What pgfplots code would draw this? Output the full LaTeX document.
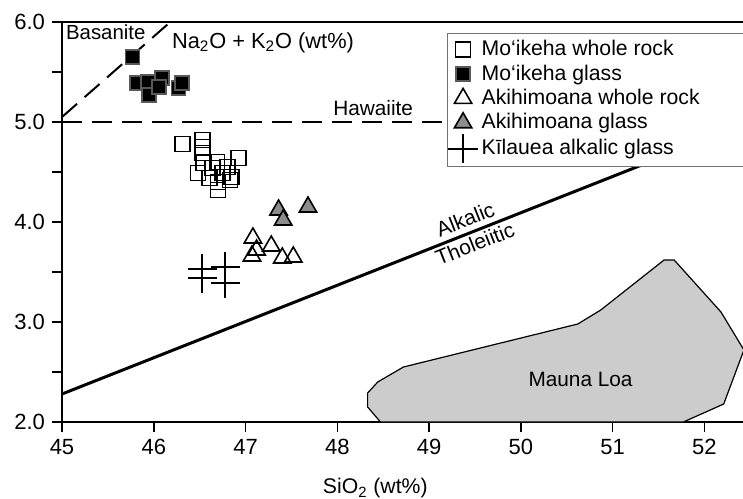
\documentclass[border=0pt]{standalone}
\usepackage{fontspec}
\setmainfont{Liberation Sans}
\usepackage{pgfplots}
\pgfplotsset{compat=1.18}
\definecolor{lobe}{gray}{0.80}
\definecolor{trifill}{gray}{0.55}
\definecolor{boxgray}{gray}{0.45}

\begin{document}
\begin{tikzpicture}
\begin{axis}[
    scale only axis,
    width=340.5pt, height=200pt,
    xmin=45, xmax=52.42, ymin=2, ymax=6,
    axis x line=box, axis y line=left,
    axis line style={-, line width=1pt},
    xtick pos=left, ytick pos=left,
    tick align=outside,
    major tick length=5pt, minor tick length=5pt,
    tick style={line width=0.8pt, black},
    xtick={45,46,...,52},
    ytick={2,3,4,5,6},
    minor ytick={2.5,3.5,4.5,5.5},
    yticklabel style={/pgf/number format/.cd, fixed, fixed zerofill, precision=1},
    /pgf/number format/assume math mode=true,
    tick label style={font=\fontsize{11}{13}\selectfont},
    xlabel={SiO\textsubscript{2} (wt\%)},
    xlabel style={at={(axis description cs:0.46,0)}, anchor=north, yshift=-28pt,
      inner sep=0pt, font=\fontsize{10.6}{12}\selectfont},
    legend style={at={(rel axis cs:0.5653,0.9725)}, anchor=north west,
      draw=boxgray, line width=0.5pt, font=\fontsize{10.6}{12}\selectfont,
      inner xsep=0.5pt, inner ysep=1.5pt, row sep=-1pt},
    legend cell align=left,
]
% Mauna Loa field
\addplot[forget plot, fill=lobe, draw=black, line width=0.6pt] coordinates {
  (48.47,2.00) (48.33,2.15) (48.33,2.29) (48.44,2.40) (48.72,2.55)
  (50.62,2.98) (50.87,3.12) (51.56,3.62) (51.67,3.62) (52.18,3.10)
  (52.43,2.72) (52.21,2.18) (51.77,2.00)
} -- cycle;

% division lines
\addplot[forget plot, line width=1.5pt] coordinates {(45,2.28) (52.42,4.97)};
\addplot[forget plot, line width=1pt, dash pattern=on 10pt off 5pt] coordinates {(45,5.05) (46.18,6.0)};
\addplot[forget plot, line width=1pt, dash pattern=on 10pt off 5pt] coordinates {(45,5.0) (52.42,5.0)};

% Mo`ikeha whole rock
\addplot[only marks, mark=square, mark size=3.75pt, mark options={line width=0.8pt, black}] coordinates {
  (46.31,4.78) (46.53,4.82) (46.53,4.75) (46.53,4.69) (46.92,4.64)
  (46.48,4.49) (46.54,4.59) (46.69,4.60) (46.75,4.49) (46.85,4.45)
  (46.70,4.32) (46.61,4.44) (46.80,4.55) (46.64,4.54) (46.83,4.42)
  (46.70,4.40)
};
% Mo`ikeha glass
\addplot[only marks, mark=square*, mark size=3.5pt, mark options={line width=0.8pt, draw=gray!70!black, fill=black}] coordinates {
  (45.77,5.65) (45.82,5.39) (45.94,5.40) (45.95,5.27) (46.09,5.44)
  (46.06,5.35) (46.27,5.34) (46.31,5.39)
};
% Akihimoana whole rock
\addplot[only marks, mark=triangle, mark size=5pt, mark options={line width=0.8pt, black}] coordinates {
  (47.08,3.84) (47.12,3.72) (47.07,3.66) (47.28,3.76) (47.40,3.64)
  (47.52,3.65)
};
% Akihimoana glass
\addplot[only marks, mark=triangle*, mark size=5pt, mark options={line width=0.8pt, draw=black, fill=trifill}] coordinates {
  (47.36,4.12) (47.41,4.02) (47.68,4.15)
};
% Kilauea alkalic glass
\addplot[only marks, mark=+, mark size=7.3pt, mark options={line width=1pt, black}] coordinates {
  (46.53,3.53) (46.53,3.44) (46.78,3.55) (46.78,3.39)
};

\legend{Mo`ikeha whole rock, Mo`ikeha glass, Akihimoana whole rock\hspace*{21pt}, Akihimoana glass, Kīlauea alkalic glass}

\node[anchor=west, inner sep=0pt, font=\fontsize{10.2}{11}\selectfont] at (axis cs:45.04,5.9) {Basanite};
\node[font=\fontsize{10.9}{12}\selectfont] at (axis cs:47.19,5.79) {Na\textsubscript{2}O + K\textsubscript{2}O (wt\%)};
\node[font=\fontsize{10.4}{12}\selectfont] at (axis cs:48.39,5.14) {Hawaiite};
\node[rotate=21.6, anchor=south, inner sep=3pt, font=\fontsize{10.5}{12}\selectfont] at (axis cs:49.45,3.895) {Alkalic};
\node[rotate=21.6, anchor=north, inner sep=2pt, font=\fontsize{10.5}{12}\selectfont] at (axis cs:49.45,3.895) {Tholeiitic};
\node[font=\fontsize{10.4}{12}\selectfont] at (axis cs:50.65,2.43) {Mauna Loa};
\end{axis}
\pgfresetboundingbox
\path ([xshift=-31pt,yshift=-38pt]current axis.south west) rectangle ([yshift=11pt]current axis.north east);
\end{tikzpicture}
\end{document}
